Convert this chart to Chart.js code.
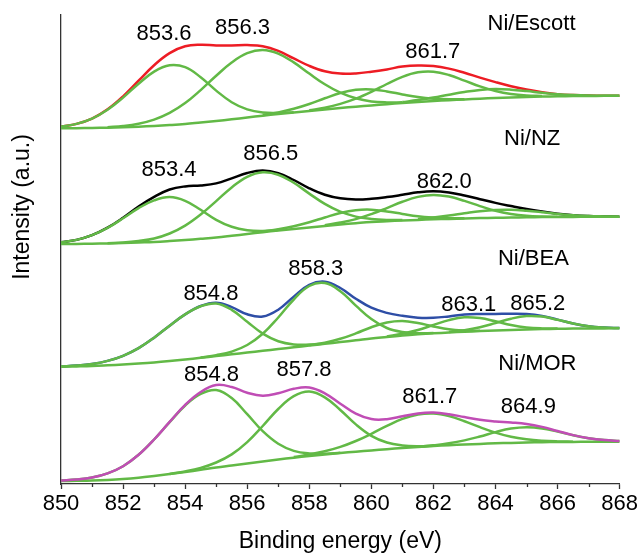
<!DOCTYPE html>
<html>
<head>
<meta charset="utf-8">
<script src="https://cdn.jsdelivr.net/npm/chart.js@4.4.1/dist/chart.umd.min.js"></script>
<style>
  html, body { margin: 0; background: #fff; }
  canvas { display: block; }
</style>
</head>
<body>
<canvas id="xps" width="640" height="554"></canvas>
<script>
// binding energy grid (eV), 0.5 eV step
const energy = [850, 850.5, 851, 851.5, 852, 852.5, 853, 853.5, 854, 854.5, 855, 855.5, 856, 856.5, 857, 857.5, 858, 858.5,
  859, 859.5, 860, 860.5, 861, 861.5, 862, 862.5, 863, 863.5, 864, 864.5, 865, 865.5, 866, 866.5, 867, 867.5, 868];

// Ni/Escott (stacked offset included)
const escBg = [355.7, 355.8, 356, 356.3, 356.7, 357.3, 358, 358.9, 360, 361.5, 363, 364.7, 366.5, 368.3, 370, 371.5, 373, 374.5,
  376, 377.3, 378.5, 379.8, 381, 382, 383, 383.8, 384.5, 385.3, 386, 386.5, 387, 387.4, 387.7, 387.9, 388, 388.2, 388.3];
const escFit = [357.4, 360.1, 365.4, 374.7, 387.7, 403.3, 418.8, 430.9, 437.7, 439.2, 438.6, 438.6, 438.9, 437.8, 433.1, 425.6, 418.1, 412.7,
  410.4, 410.6, 412.3, 414.6, 417.4, 418.5, 418.0, 415.4, 411.2, 406.4, 401.9, 397.8, 394.4, 391.8, 389.8, 388.9, 388.4, 388.2, 388.3];
const escPeaks = [
  [850, [357.4, 360.1, 365.4, 374.2, 386.4, 400.3, 412.4, 418.7, 416.8, 406.8, 393.4, 381.8, 374.6, 371.5, 371.1, 371.8]],
  [851.5, [356.8, 358.0, 360.3, 364.4, 371.1, 380.9, 393.9, 408.2, 421.5, 430.8, 434.0, 430.4, 421.6, 410.4, 399.7, 391.3, 385.7, 382.6, 381.6, 381.7]],
  [856.5, [368.9, 371.6, 375.2, 380.0, 385.7, 391.0, 394.2, 394.6, 392.6, 389.6, 386.9, 385.3, 384.7, 384.8]],
  [858, [373.7, 376.3, 380.1, 385.3, 392.1, 400.0, 407.2, 411.7, 412.3, 409.0, 403.4, 397.6, 393.0, 390.0, 388.5, 388.0]],
  [861, [381.9, 383.9, 386.4, 389.3, 392.0, 394.1, 394.9, 394.3, 392.9, 391.2, 389.8, 388.9, 388.4, 388.2, 388.3]]
];

// Ni/NZ
const nzBg = [240, 240.1, 240.3, 240.6, 241, 241.5, 242, 242.9, 244, 245.2, 246.5, 248.2, 250, 251.8, 253.5, 255, 256.5, 258,
  259.5, 260.8, 262, 262.8, 263.5, 264.1, 264.7, 265.1, 265.5, 265.9, 266.2, 266.5, 266.7, 266.9, 267, 267.1, 267.2, 267.3, 267.3];
const nzFit = [241.7, 244.1, 248.8, 256.3, 266.2, 277.4, 287.1, 294.5, 297.6, 298.5, 300.6, 305.6, 311.0, 313.5, 310.9, 304.0, 295.7, 289.3,
  285.7, 284.5, 285.2, 286.9, 289.2, 291.7, 292.8, 291.5, 288.5, 284.8, 281.1, 277.9, 274.9, 272.4, 270.3, 268.8, 268.0, 267.6, 267.3];
const nzPeaks = [
  [850, [241.7, 244.1, 248.8, 256.1, 265.7, 275.9, 283.6, 286.9, 283.2, 274.2, 264.2, 257.2, 253.8, 253.1, 253.9]],
  [851.5, [240.8, 241.5, 243.0, 245.5, 250.5, 258.4, 269.5, 282.9, 296.6, 307.2, 311.7, 309.3, 301.2, 290.4, 280.1, 272.3, 267.4, 265.0, 264.0, 263.9]],
  [856.5, [252.3, 254.7, 257.8, 261.8, 266.5, 271.0, 273.8, 274.3, 272.6, 270.1, 267.8, 266.5, 265.8, 265.7]],
  [858.5, [258.7, 261.4, 264.9, 269.9, 275.9, 282.2, 287.1, 289.1, 287.4, 283.1, 277.9, 273.2, 270.1, 268.3, 267.5, 267.2]],
  [861.5, [265.0, 266.6, 268.5, 270.7, 272.8, 274.1, 274.3, 273.3, 271.8, 270.1, 268.8, 268.0, 267.6, 267.3]]
];

// Ni/BEA
const beaBg = [117.3, 117.6, 118, 118.7, 119.5, 120.4, 121.5, 122.9, 124.5, 126.2, 128, 129.7, 131.5, 133.2, 135, 136.7, 138.5, 140.2,
  142, 143.7, 145.5, 147, 148.5, 149.7, 150.7, 151.5, 152.3, 152.9, 153.5, 154, 154.5, 154.9, 155.2, 155.4, 155.5, 155.6, 155.7];
const beaFit = [117.6, 118.4, 120.0, 123.1, 128.2, 135.9, 146.3, 158.3, 169.6, 178.0, 181.3, 176.9, 169.7, 167.4, 174.3, 187.4, 199.2, 202.3,
  196.0, 185.3, 176.3, 171.1, 168.2, 166.3, 166.2, 167.6, 169.4, 170.0, 170.1, 170.3, 170.0, 168.1, 164.4, 160.5, 157.7, 156.4, 155.9];
const beaPeaks = [
  [850, [117.6, 118.4, 120.0, 123.1, 128.2, 135.9, 146.3, 158.3, 169.6, 177.8, 180.5, 174.2, 162.2, 150.4, 142.8, 139.6, 139.4, 140.4]],
  [854.5, [126.4, 128.8, 132.4, 139.0, 150.2, 166.5, 184.5, 198.0, 200.9, 192.8, 178.4, 165.0, 156.0, 151.9, 150.7, 151.0]],
  [858, [138.8, 141.4, 145.2, 150.6, 156.8, 161.5, 163.0, 161.0, 157.6, 154.7, 153.5, 153.2]],
  [860.5, [147.6, 150.3, 154.0, 159.0, 163.9, 166.7, 165.9, 162.7, 159.0, 156.6, 155.6, 155.4]],
  [862.5, [152.0, 153.8, 156.7, 160.9, 165.3, 167.9, 167.4, 164.2, 160.5, 157.7, 156.4, 155.9]]
];

// Ni/MOR
const morBg = [3, 3.2, 3.5, 4.1, 5, 6.3, 8, 9.9, 12, 14.2, 16.5, 18.5, 20.5, 22.5, 24.5, 26.3, 28, 29.5,
  31, 32.3, 33.5, 34.8, 36, 37, 38, 38.8, 39.5, 40.1, 40.7, 41.1, 41.5, 41.8, 42, 42.1, 42.2, 42.3, 42.3];
const morFit = [3.4, 4.4, 6.4, 10.6, 17.8, 29.2, 44.5, 62.1, 79.1, 92.0, 98.9, 97.0, 91.2, 88.3, 90.7, 95.2, 96.4, 90.7,
  80.3, 70.3, 64.9, 64.8, 67.7, 70.5, 71.4, 69.8, 66.9, 64.2, 62.6, 61.5, 60.0, 57.1, 53.0, 48.9, 45.8, 43.9, 42.9];
const morPeaks = [
  [850, [3.4, 4.4, 6.4, 10.6, 17.8, 29.2, 44.5, 61.9, 78.5, 90.1, 93.9, 85.9, 69.8, 52.8, 40.2, 33.1, 30.5, 30.3, 31.2]],
  [853.5, [10.1, 12.6, 16.1, 21.5, 29.6, 41.9, 58.0, 75.0, 87.8, 92.4, 86.7, 74.0, 59.6, 48.2, 41.5, 38.6, 37.8, 38.2]],
  [857.5, [26.9, 29.5, 32.7, 37.1, 43.0, 50.2, 58.1, 65.1, 69.5, 70.5, 67.9, 62.8, 56.8, 51.4, 47.2, 44.7, 43.3, 42.6, 42.3]],
  [861.5, [37.2, 38.7, 40.7, 43.6, 47.5, 51.9, 55.4, 56.8, 55.6, 52.4, 48.7, 45.8, 43.9, 42.9]]
];

// text: [label, energy, intensity]
const peakLabels = [
  ['853.6', 853.32, 452.3], ['856.3', 855.85, 458], ['861.7', 861.98, 434],
  ['853.4', 853.48, 316], ['856.5', 856.76, 332.3], ['862.0', 862.35, 304],
  ['854.8', 854.83, 192.3], ['858.3', 858.21, 217.3], ['863.1', 863.14, 181], ['865.2', 865.36, 182.3],
  ['854.8', 854.85, 110.7], ['857.8', 857.83, 115.7], ['861.7', 861.88, 89], ['864.9', 865.06, 79]
];
const sampleNames = [
  ['Ni/Escott', 865.16, 462.3], ['Ni/NZ', 865.18, 347.3], ['Ni/BEA', 865.22, 226.5], ['Ni/MOR', 865.35, 121.5]
];

const FONT = "'Liberation Sans', Arial, Helvetica, sans-serif";
const GREEN = '#62b946';

const spectra = [
  { bg: escBg, fit: escFit, peaks: escPeaks, color: '#ed1c24', fitOnTop: false },
  { bg: nzBg, fit: nzFit, peaks: nzPeaks, color: '#000000', fitOnTop: false },
  { bg: beaBg, fit: beaFit, peaks: beaPeaks, color: '#2e4ea6', fitOnTop: false },
  { bg: morBg, fit: morFit, peaks: morPeaks, color: '#c04db5', fitOnTop: true }
];

function pointsFrom(start, ys) {
  const k = energy.indexOf(start);
  return ys.map((y, i) => ({ x: energy[k + i], y: y }));
}

function curve(data, color, order) {
  return {
    data: data,
    borderColor: color,
    borderWidth: 2.5,
    pointRadius: 0,
    tension: 0.4,
    fill: false,
    order: order
  };
}

const datasets = [];
spectra.forEach(s => {
  datasets.push(curve(pointsFrom(850, s.fit), s.color, s.fitOnTop ? 0 : 2));
  datasets.push(curve(pointsFrom(850, s.bg), GREEN, 1));
  s.peaks.forEach(p => datasets.push(curve(pointsFrom(p[0], p[1]), GREEN, 1)));
});

// minor ticks, peak labels and the y title
const extras = {
  id: 'extras',
  afterDraw(chart) {
    const ctx = chart.ctx;
    const xs = chart.scales.x, ys = chart.scales.y;
    const area = chart.chartArea;
    ctx.save();
    ctx.strokeStyle = '#333';
    ctx.lineWidth = 1.3;
    for (let e = 851; e < 868; e += 2) {
      const px = Math.round(xs.getPixelForValue(e)) + 0.5;
      ctx.beginPath();
      ctx.moveTo(px, area.bottom);
      ctx.lineTo(px, area.bottom + 3);
      ctx.stroke();
    }
    ctx.fillStyle = '#000';
    ctx.textAlign = 'center';
    ctx.textBaseline = 'alphabetic';
    ctx.font = '22px ' + FONT;
    peakLabels.concat(sampleNames).forEach(l => {
      ctx.fillText(l[0], xs.getPixelForValue(l[1]), ys.getPixelForValue(l[2]) + 22 * 0.358);
    });
    ctx.font = '23px ' + FONT;
    ctx.translate(28.5, area.top + 192);
    ctx.rotate(-Math.PI / 2);
    ctx.fillText('Intensity (a.u.)', 0, 0);
    ctx.restore();
  }
};

new Chart(document.getElementById('xps'), {
  type: 'line',
  data: { datasets: datasets },
  options: {
    responsive: false,
    animation: false,
    layout: { padding: { left: 61, right: 20, top: 15, bottom: 0 } },
    plugins: { legend: { display: false }, tooltip: { enabled: false } },
    scales: {
      x: {
        type: 'linear',
        min: 850,
        max: 868,
        ticks: { stepSize: 2, color: '#000', font: { family: FONT, size: 22 }, padding: 2, maxRotation: 0 },
        grid: { drawOnChartArea: false, drawTicks: true, tickLength: 5, tickColor: '#333', tickWidth: 1.3 },
        border: { display: true, color: '#333', width: 1.3 },
        title: { display: true, text: 'Binding energy (eV)', color: '#000', font: { family: FONT, size: 23 }, padding: { top: 0, bottom: -1 } },
        afterFit: s => { s.height = 70; }
      },
      y: {
        min: 0,
        max: 469,
        ticks: { display: false },
        grid: { display: false, drawTicks: false },
        border: { display: true, color: '#333', width: 1.3 },
        afterFit: s => { s.width = 0; }
      }
    }
  },
  plugins: [extras]
});
</script>
</body>
</html>
